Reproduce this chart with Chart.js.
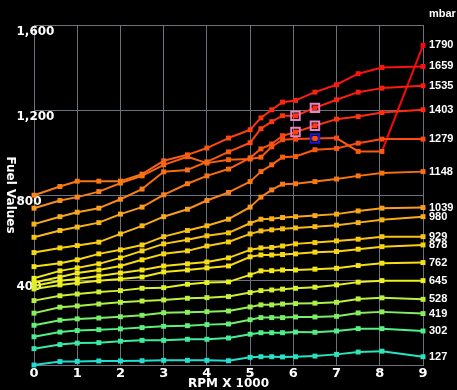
<!DOCTYPE html>
<html>
<head>
<meta charset="utf-8">
<script src="https://cdn.jsdelivr.net/npm/chart.js@4.4.0/dist/chart.umd.min.js"></script>
<style>
  html, body { margin: 0; padding: 0; background: #000; }
</style>
</head>
<body>
<canvas id="fuel" width="457" height="390"></canvas>
<script>
// rpm (x 1000) where every curve has a point
const rpm = [0, 0.6, 1, 1.5, 2, 2.5, 3, 3.55, 4, 4.5, 5, 5.25, 5.5, 5.75, 6.05, 6.5, 7, 7.5, 8.05, 9];

// pressure (mbar) of each curve, shown on the right
const mbar = [127, 302, 419, 528, 645, 762, 878, 929, 980, 1039, 1148, 1279, 1403, 1535, 1659, 1790];

// fuel values, one list per pressure
const fuel127  = [0, 16, 17, 19, 19, 20, 22, 22, 22, 20, 36, 39, 39, 38, 39, 42, 50, 61, 65, 39];
const fuel302  = [77, 96, 103, 105, 112, 116, 116, 121, 121, 127, 145, 152, 152, 152, 155, 154, 160, 171, 171, 160];
const fuel419  = [133, 155, 162, 166, 170, 176, 182, 185, 190, 193, 213, 223, 223, 223, 226, 226, 229, 245, 250, 242];
const fuel528  = [187, 211, 217, 221, 227, 234, 246, 248, 251, 254, 273, 283, 283, 287, 289, 291, 295, 311, 316, 309];
const fuel645  = [244, 272, 278, 287, 295, 301, 306, 314, 317, 322, 341, 350, 353, 357, 361, 366, 377, 390, 397, 397];
const fuel762  = [303, 326, 334, 344, 350, 361, 364, 380, 388, 391, 424, 443, 444, 447, 447, 451, 455, 468, 479, 482];
const fuel878  = [358, 377, 386, 396, 405, 414, 438, 447, 457, 466, 509, 518, 518, 520, 523, 531, 534, 545, 557, 565];
const fuel929  = [372, 396, 405, 419, 433, 447, 466, 476, 485, 504, 542, 551, 553, 560, 570, 576, 584, 592, 604, 604];
const fuel980  = [388, 414, 433, 447, 466, 495, 523, 537, 560, 579, 617, 631, 636, 641, 645, 651, 658, 670, 683, 698];
const fuel1039 = [408, 443, 457, 476, 504, 537, 570, 589, 608, 622, 667, 686, 688, 694, 698, 703, 710, 725, 738, 741];
const fuel1148 = [463, 479, 495, 523, 542, 565, 604, 633, 655, 686, 743, 790, 824, 851, 853, 863, 875, 890, 903, 910];
const fuel1279 = [529, 551, 562, 578, 617, 655, 698, 733, 774, 812, 863, 910, 942, 978, 981, 1013, 1019, 1044, 1063, 1063];
const fuel1403 = [601, 633, 649, 670, 710, 743, 801, 853, 890, 922, 975, 1017, 1040, 1079, 1096, 1126, 1157, 1169, 1188, 1201];
const fuel1535 = [663, 698, 719, 738, 780, 828, 909, 918, 956, 1003, 1046, 1112, 1145, 1173, 1173, 1210, 1248, 1284, 1303, 1314];
const fuel1659 = [799, 840, 865, 865, 865, 898, 961, 989, 1021, 1068, 1107, 1163, 1201, 1237, 1245, 1284, 1319, 1371, 1400, 1405];
const fuel1790 = [738, 774, 790, 816, 856, 890, 942, 980, 950, 966, 969, 978, 1027, 1060, 1063, 1066, 1068, 1005, 1005, 1504];

// highlighted cells (pressure, rpm)
const pinkMbar = [1535, 1535, 1403, 1403];
const pinkRpm  = [6.05, 6.5, 6.05, 6.5];
const blueMbar = [1790];
const blueRpm  = [6.5];

const series = [fuel127, fuel302, fuel419, fuel528, fuel645, fuel762, fuel878, fuel929,
  fuel980, fuel1039, fuel1148, fuel1279, fuel1403, fuel1535, fuel1659, fuel1790];

// colour follows the fuel value (cyan low .. red high)
const heatAt  = [0, 80, 160, 240, 310, 400, 480, 565, 605, 700, 745, 800, 910, 1060, 1200, 1320, 1500];
const heatCol = ['#20dcd8', '#30e8b0', '#50f088', '#80f060', '#bcf040', '#eef020', '#f6e014', '#f8d010',
  '#f8c414', '#f8ac18', '#f89c20', '#f88418', '#f87010', '#fc4c10', '#fc2a10', '#fc1a10', '#f80808'];

const gridColor = '#6c727a';
const fontFam = '"DejaVu Sans", sans-serif';

function hexRgb(h) {
  return [parseInt(h.slice(1, 3), 16), parseInt(h.slice(3, 5), 16), parseInt(h.slice(5, 7), 16)];
}

function heat(v) {
  if (v <= heatAt[0]) return heatCol[0];
  for (let i = 1; i < heatAt.length; i++) {
    if (v <= heatAt[i]) {
      const t = (v - heatAt[i - 1]) / (heatAt[i] - heatAt[i - 1]);
      const a = hexRgb(heatCol[i - 1]);
      const b = hexRgb(heatCol[i]);
      const c = a.map((q, k) => Math.round(q + (b[k] - q) * t));
      return 'rgb(' + c.join(',') + ')';
    }
  }
  return heatCol[heatCol.length - 1];
}

function cell(mb, r) {
  const i = mbar.indexOf(mb);
  const j = rpm.indexOf(r);
  return {x: rpm[j], y: series[i][j]};
}

const datasets = series.map((vals, i) => ({
  label: String(mbar[i]),
  data: vals.map((v, j) => ({x: rpm[j], y: v})),
  borderColor: heat(vals[vals.length - 1]),
  segment: {borderColor: (c) => heat(c.p1.parsed.y)},
  pointBackgroundColor: (c) => heat(c.parsed ? c.parsed.y : 0),
  borderWidth: 2,
  pointStyle: 'rect',
  pointRadius: 3.5,
  pointBorderWidth: 0,
  tension: 0,
  clip: false
}));

datasets.push({
  label: 'pink',
  data: pinkMbar.map((m, k) => cell(m, pinkRpm[k])),
  showLine: false,
  pointStyle: 'rect',
  pointRadius: 6,
  pointBorderWidth: 2,
  pointBorderColor: '#e884c4',
  pointBackgroundColor: 'rgba(0,0,0,0)',
  order: -1,
  clip: false
});
datasets.push({
  label: 'blue',
  data: blueMbar.map((m, k) => cell(m, blueRpm[k])),
  showLine: false,
  pointStyle: 'rect',
  pointRadius: 6,
  pointBorderWidth: 2,
  pointBorderColor: '#1818d0',
  pointBackgroundColor: 'rgba(0,0,0,0)',
  order: -1,
  clip: false
});

// black page + right side mbar labels + vertical y title
const extras = {
  id: 'extras',
  beforeDraw(chart) {
    const ctx = chart.ctx;
    ctx.save();
    ctx.fillStyle = '#000';
    ctx.fillRect(0, 0, chart.width, chart.height);
    ctx.restore();
  },
  afterDraw(chart) {
    const ctx = chart.ctx;
    const area = chart.chartArea;
    const y = chart.scales.y;
    ctx.save();
    ctx.fillStyle = '#fff';
    ctx.font = 'bold 11px "Liberation Sans", sans-serif';
    ctx.textAlign = 'left';
    ctx.textBaseline = 'middle';
    ctx.fillText('mbar', area.right + 6, 14);
    series.forEach((vals, i) => {
      ctx.fillText(String(mbar[i]), area.right + 6, y.getPixelForValue(vals[vals.length - 1]));
    });
    ctx.font = 'bold 12px ' + fontFam;
    ctx.textAlign = 'center';
    ctx.translate(10, (area.top + area.bottom) / 2);
    ctx.rotate(Math.PI / 2);
    ctx.fillText('Fuel Values', 0, 0);
    ctx.restore();
  }
};

new Chart(document.getElementById('fuel'), {
  type: 'line',
  data: {datasets: datasets},
  options: {
    responsive: false,
    animation: false,
    devicePixelRatio: 1,
    layout: {padding: {top: 25, right: 34, left: 0, bottom: 0}},
    plugins: {legend: {display: false}, tooltip: {enabled: false}},
    scales: {
      x: {
        type: 'linear',
        min: 0,
        max: 9,
        afterFit: (s) => { s.height = 25; },
        ticks: {stepSize: 1, color: '#fff', padding: 1, font: {family: fontFam, weight: 'bold', size: 13}},
        grid: {color: gridColor, drawTicks: false},
        border: {color: gridColor},
        title: {display: true, text: 'RPM X 1000', color: '#fff', padding: 0,
          font: {family: fontFam, weight: 'bold', size: 12, lineHeight: 1}}
      },
      y: {
        min: 0,
        max: 1600,
        afterFit: (s) => { s.width = 34; },
        ticks: {
          stepSize: 400,
          mirror: true,
          padding: -17.5,
          labelOffset: 7,
          color: '#fff',
          font: {family: fontFam, weight: 'bold', size: 12},
          callback: (v) => v === 0 ? '' : v.toLocaleString('en-US')
        },
        grid: {color: gridColor, drawTicks: false},
        border: {color: gridColor}
      }
    }
  },
  plugins: [extras]
});
</script>
</body>
</html>
